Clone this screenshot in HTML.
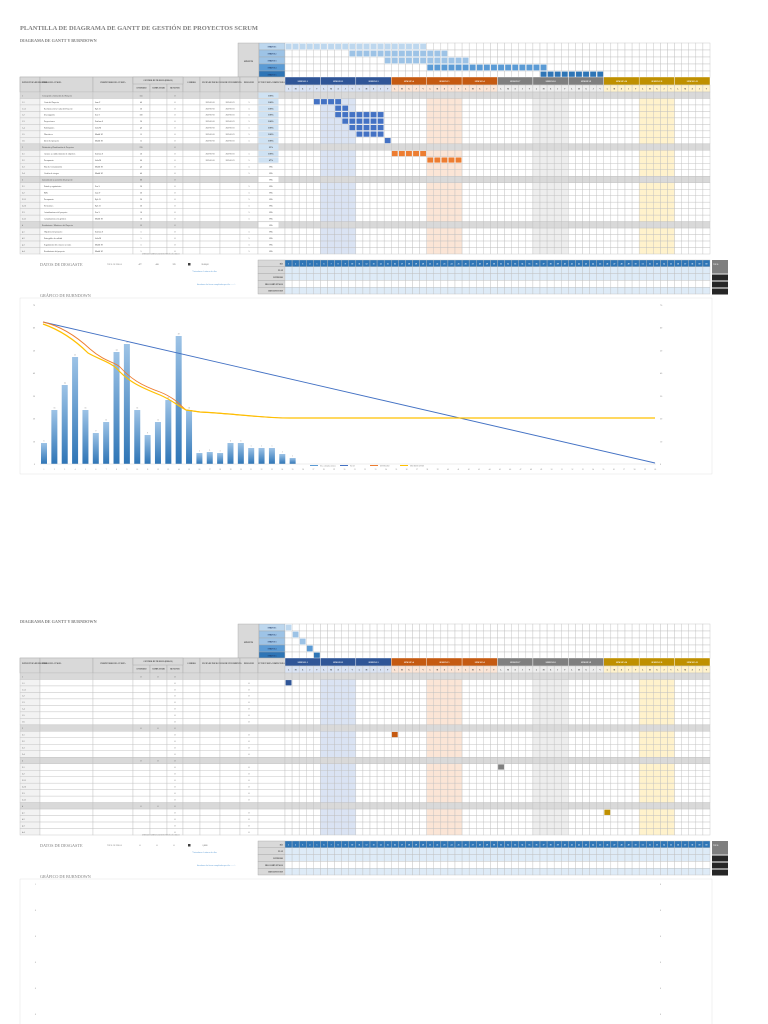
<!DOCTYPE html>
<html><head><meta charset="utf-8"><style>
html,body{margin:0;padding:0;background:#fff;width:768px;height:1024px;overflow:hidden}
svg{display:block}
text{font-family:"Liberation Serif",serif}
</style></head><body>
<svg id="s" width="768" height="1024" viewBox="0 0 768 1024" xmlns="http://www.w3.org/2000/svg">
<text x="20" y="30" font-size="6.4" font-weight="bold" fill="#7f7f7f">PLANTILLA DE DIAGRAMA DE GANTT DE GESTIÓN DE PROYECTOS SCRUM</text>
</svg>
<script>
var S=document.getElementById('s'),NS='http://www.w3.org/2000/svg';
function el(t,a,txt){var e=document.createElementNS(NS,t);for(var k in a)e.setAttribute(k,a[k]);if(txt!==undefined)e.textContent=txt;S.appendChild(e);return e;}
function R(x,y,w,h,f,st){return el('rect',{x:x,y:y,width:w,height:h,fill:f||'none',stroke:st||'none','stroke-width':0.4});}
function T(x,y,s,sz,c,anc,b){return el('text',{x:x,y:y,'font-size':sz||2.4,fill:c||'#595959','text-anchor':anc||'start','font-weight':b?'bold':'normal'},s);}
var GX=285,DW=425/60;
var cols=[20,40,93,133,150,167,183,200,220,240,258,285];
var wkH=['#2f5597','#2f5597','#2f5597','#c55a11','#c55a11','#c55a11','#7f7f7f','#7f7f7f','#7f7f7f','#bf9000','#bf9000','#bf9000'];
var wkL=['#dae3f3','#dae3f3','#dae3f3','#fbe5d6','#fbe5d6','#fbe5d6','#ededed','#ededed','#ededed','#fff2cc','#fff2cc','#fff2cc'];
var shade={1:'#dae3f3',4:'#fbe5d6',7:'#ededed',10:'#fff2cc'};
var sprintC=['#bdd7ee','#9dc3e6','#9dc3e6','#5b9bd5','#2e75b6'];
var wbs=['1','1.1','1.1.1','1.2','1.3','1.4','1.5','1.6','2','2.1','2.2','2.3','2.4','3','3.1','3.2','3.2.1','3.2.2','3.3','3.3.1','4','4.1','4.2','4.3','4.4'];
var names=['Concepción e Iniciación del Proyecto','Carta del Proyecto','Revisiones de la Carta del Proyecto','Investigación','Proyecciones','Participantes','Directrices','Inicio del proyecto','Definición y Planificación de Proyectos','Alcance y establecimiento de objetivos','Presupuesto','Plan de Comunicación','Gestión de riesgos','Lanzamiento y ejecución del proyecto','Estado y seguimiento','KPIs','Presupuesto','Previsiones','Actualizaciones del proyecto','Actualizaciones de gráficos','Rendimiento / Monitoreo del Proyecto','Objetivos del proyecto','Entregables de calidad','Seguimiento del esfuerzo y costes','Rendimiento del proyecto'];
var owners=['','Juan P','Ryle B','Eva S','Esteban S','Julia M','Maddi M','Maddi M','','Esteban S','Julia M','Maddi M','Maddi M','','Eva S','Juan P','Ryle B','Ryle B','Eva S','Maddi M','','Esteban S','Julia M','Maddi M','Maddi M'];
var summ={0:1,8:1,13:1,20:1};
function page(off,full){
  var y0=43+off;
  // sprint block
  R(238,y0,21,35,'#d9d9d9','#a6a6a6');T(248.5,y0+19,'SPRINTS',2.2,'#404040','middle',1);
  for(var i=0;i<5;i++){var yy=y0+i*7;R(259,yy,26,7,sprintC[i],'#a6a6a6');T(272,yy+4.6,'SPRINT '+(i+1),2,'#1f3864','middle',1);
    for(var d=0;d<60;d++)R(GX+d*DW,yy,DW,7,'#fff','#bfbfbf');}
  var sb=full?[[0,20],[9,23],[14,26],[20,37],[36,45]]:[[0,1],[1,2],[2,3],[3,4],[4,5]];
  for(var i=0;i<5;i++)for(var d=sb[i][0];d<sb[i][1];d++)R(GX+d*DW+0.4,y0+i*7+0.4,DW-0.8,6.2,sprintC[i],'#fff');
  // header
  var hy=77+off;
  R(20,hy,265,15,'#d9d9d9','#a6a6a6');
  for(var c=0;c<cols.length-1;c++)R(cols[c],hy,cols[c+1]-cols[c],15,'#d9d9d9','#a6a6a6');
  R(133,hy,50,7,'#d9d9d9','#a6a6a6');
  var hl=['ESTRUCTURA DE DESGLOSE','TÍTULO DE LA TAREA','PROPIETARIO DE LA TAREA','ESTIMADO','COMPLETADO','RESTANTE','CAMBIOS','FECHA DE INICIO','FECHA DE VENCIMIENTO','DURACIÓN','PCT DE TAREA COMPLETADA'];
  for(var c=0;c<hl.length;c++){var yy=(c>=3&&c<=5)?hy+11.5:hy+6;T(c<2?cols[c]+2:(cols[c]+cols[c+1])/2,yy,hl[c],1.8,'#404040',c<2?'start':'middle',1);}
  T(158,hy+4,'CONTROL DE TRABAJO (HORAS)',1.8,'#404040','middle',1);
  for(var w=0;w<12;w++){R(GX+w*5*DW,hy,5*DW,8,wkH[w],'#fff');T(GX+w*5*DW+2.5*DW,hy+5,'SEMANA '+(w+1),2,'#fff','middle',1);
    for(var d=0;d<5;d++){R(GX+(w*5+d)*DW,hy+8,DW,7,wkL[w],'#bfbfbf');T(GX+(w*5+d+0.5)*DW,hy+12.5,'LMXJV'[d],1.8,'#404040','middle',1);}}
  // rows
  var ry=92+off,rh=6.48;
  for(var r=0;r<25;r++){var yy=ry+r*rh,sm=summ[r];
    for(var c=0;c<cols.length-1;c++)R(cols[c],yy,cols[c+1]-cols[c],rh,sm?'#d9d9d9':(c==0?'#f2f2f2':'#fff'),'#bfbfbf');
    T(22,yy+4.3,wbs[r],2,'#404040');
    if(full){T(42+(sm?0:2),yy+4.3,names[r],2,'#404040');T(95,yy+4.3,owners[r],2,'#404040');
      var ph=r<8||r==9?'100%':(r==8?'35%':(r==10?'47%':'0%'));
      R(258.5,yy+0.5,20,rh-1,ph=='0%'?'#fff':'#cfe2f3');T(271,yy+4.3,ph,2.2,'#404040','middle',1);
      T(141,yy+4.3,['155','40','20','100','20','40','15','15','235','50','60','40','40','60','20','20','20','20','10','10','15','5','5','5','5'][r],2,'#404040','middle');
      T(175,yy+4.3,'0',2,'#404040','middle');
      if(r<11&&!sm){T(210,yy+4.3,'2023-01-18',1.9,'#404040','middle');T(230,yy+4.3,'2023-01-23',1.9,'#404040','middle');}
      if(!sm)T(249,yy+4.3,'5',2,'#404040','middle');}
    else{if(!sm)T(175,yy+4.3,'0',2,'#404040','middle');else{T(141,yy+4.3,'0',2,'#404040','middle');T(158,yy+4.3,'0',2,'#404040','middle');T(175,yy+4.3,'0',2,'#404040','middle');}
      if(!sm)T(249,yy+4.3,'0',2,'#404040','middle');}
    for(var d=0;d<60;d++){var w=Math.floor(d/5),f=sm?'#d9d9d9':(shade[w]||'#fff');R(GX+d*DW,yy,DW,rh,f,'#bfbfbf');}
  }
  var bars=full?[[1,4,8,'#4472c4'],[2,7,9,'#4472c4'],[3,7,14,'#4472c4'],[4,8,14,'#4472c4'],[5,9,14,'#4472c4'],[6,10,14,'#4472c4'],[7,14,15,'#4472c4'],[9,15,20,'#ed7d31'],[10,20,25,'#ed7d31']]
    :[[1,0,1,'#2f5597'],[9,15,16,'#c55a11'],[14,30,31,'#7f7f7f'],[21,45,46,'#bf9000']];
  bars.forEach(function(b){for(var d=b[1];d<b[2];d++)R(GX+d*DW+0.4,ry+b[0]*rh+0.4,DW-0.8,rh-0.8,b[3],'#fff');});
  // burndown data
  var dy=260+off;
  T(40,dy+6,'DATOS DE DESGASTE',4.2,'#7f7f7f');
  T(107,dy+5,'TOTAL DE HORAS',1.8,'#7f7f7f');
  var tv=full?['477','418','376']:['0','0','0'];
  T(140,dy+5,tv[0],2,'#404040','middle');T(157,dy+5,tv[1],2,'#404040','middle');T(174,dy+5,tv[2],2,'#404040','middle');
  R(188,dy+3,2.5,2.5,'#404040');T(205,dy+5,full?'35.000,00':'0,0000',1.8,'#404040','middle');
  T(142,dy-5.5,'ESTIMADO   COMPLETADO   RESTANTE        DÍA      DÍA HORAS',1.5,'#7f7f7f');
  T(192,dy+12,'* Introduzca el número de días',2,'#5b9bd5');
  T(197,dy+25,'Introduzca las horas completadas por día ——>',2,'#5b9bd5');
  var lab=['DÍA','PLAN','ESTIMADO','HRS COMPLETADAS','HRS RESTANTES'];
  for(var r=0;r<5;r++){var yy=dy+r*6.8;R(258,yy,27,6.8,'#d9d9d9','#a6a6a6');T(283,yy+4.4,lab[r],1.8,'#404040','end',1);
    for(var d=0;d<60;d++){R(GX+d*DW,yy,DW,6.8,r==0?'#2e75b6':(r==3?'#fff':'#deebf7'),'#bfbfbf');
      if(r==0)T(GX+(d+0.5)*DW,yy+4.4,''+(d+1),1.9,'#fff','middle',1);}}
  R(712,dy,16,13.6,'#7f7f7f');T(713,dy+5,'TOTAL',1.8,'#fff');
  R(712,dy+14.5,16,6,'#262626');R(712,dy+21.5,16,6,'#262626');R(712,dy+28.5,16,6,'#262626');
  T(40,dy+37,'GRÁFICO DE BURNDOWN',4.2,'#7f7f7f');
}
function chart1(){
  R(20,298,692,176,'#fff','#d9d9d9');
  var base=464,lv=[70,60,50,40,30,20,10,0];
  for(var i=0;i<8;i++){var y=305+i*(159/7);T(35,y+1,''+lv[i],2.2,'#7f7f7f','end');T(660,y+1,''+(70-i*10),2.2,'#7f7f7f');}
  var tops=[443,410,385,357,410,433,422,352,344,410,435,422,400,336,410,453,452,453,443,443,448,448,448,454,458];
  var g=el('defs',{});g.innerHTML='<linearGradient id="bg" x1="0" y1="0" x2="0" y2="1"><stop offset="0" stop-color="#9dc3e6"/><stop offset="1" stop-color="#2e75b6"/></linearGradient>';
  for(var i=0;i<60;i++){var x=44+i*10.36;T(x,470,''+(i+1),1.8,'#7f7f7f','middle');
    if(i<25){R(x-3,tops[i],6,base-tops[i],'url(#bg)');T(x,tops[i]-1.5,''+Math.round((base-tops[i])/3.3),1.8,'#7f7f7f','middle');}}
  el('line',{x1:40,y1:base,x2:656,y2:base,stroke:'#d9d9d9','stroke-width':0.5});
  el('line',{x1:43,y1:322,x2:655,y2:463,stroke:'#4472c4','stroke-width':0.9});
  el('path',{d:'M43,322 C60,326 75,335 90,349 C105,362 115,362 120,367 C130,378 140,385 160,392 C175,398 180,405 186,410 L200,412 C240,414 260,418 290,418 L655,418',fill:'none',stroke:'#ed7d31','stroke-width':0.9});
  el('path',{d:'M43,324 C60,330 75,340 88,353 C100,360 112,362 120,372 C130,382 140,387 160,395 C172,400 178,406 186,410 L200,412 C240,414 260,418 290,418 L655,418',fill:'none',stroke:'#ffc000','stroke-width':1.2});
  var lg=[['#5b9bd5','Hrs. estimadas totales'],['#4472c4','PLAN'],['#ed7d31','ESTIMADO'],['#ffc000','HRS RESTANTES']];
  for(var i=0;i<4;i++){var x=310+i*30;el('line',{x1:x,y1:465.5,x2:x+8,y2:465.5,stroke:lg[i][0],'stroke-width':1});T(x+10,466.3,lg[i][1],1.8,'#7f7f7f');}
}
function chart2(){
  R(20,879,692,160,'#fff','#d9d9d9');
  for(var i=0;i<6;i++){var y=885+i*26;T(36,y,''+(i==0?'1':'0'),2.2,'#7f7f7f','end');T(660,y,'0',2.2,'#7f7f7f');}
}
T(20,42,'DIAGRAMA DE GANTT Y BURNDOWN',4.2,'#7f7f7f',0,1);
page(0,true);chart1();
T(20,623,'DIAGRAMA DE GANTT Y BURNDOWN',4.2,'#7f7f7f',0,1);
page(581,false);chart2();
</script>
</body></html>
